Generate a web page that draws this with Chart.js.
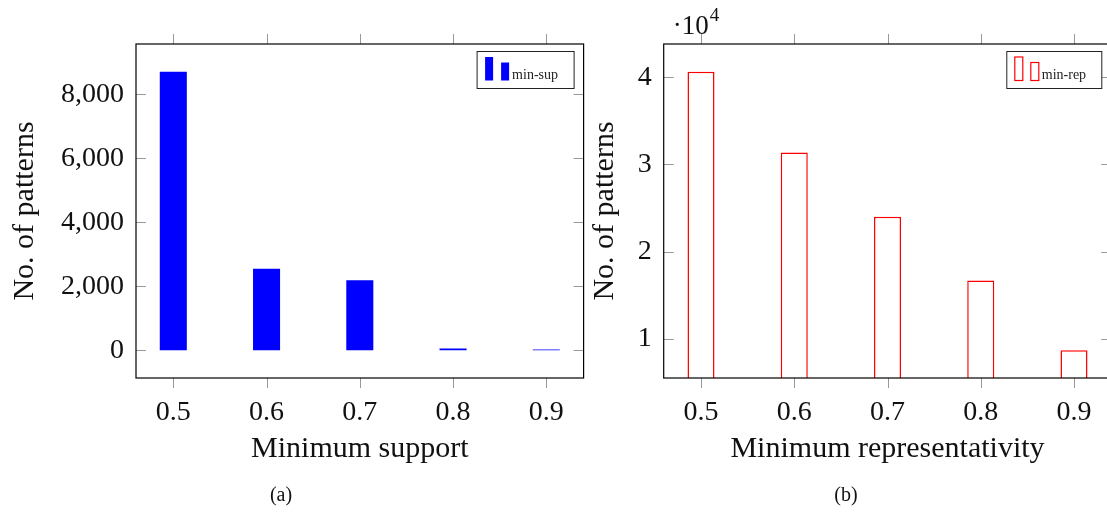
<!DOCTYPE html>
<html lang="en">
<head>
  <meta charset="UTF-8">
  <title>No. of patterns vs minimum support / representativity</title>
  <script src="https://cdn.jsdelivr.net/npm/chart.js"></script>
  <style>
    html, body { margin: 0; padding: 0; background: #fff; overflow: hidden; }
    body { width: 1107px; height: 513px; position: relative; }
    canvas { position: absolute; top: 0; }
    #chartA { left: 0; }
    #chartB { left: 580px; }
    .caption { position: absolute; top: 483px; font: 20px "Liberation Serif", serif; color: #111; transform: translateX(-50%); }
  </style>
</head>
<body>
<canvas id="chartA" width="600" height="513"></canvas>
<canvas id="chartB" width="550" height="513"></canvas>
<div class="caption" style="left:281px">(a)</div>
<div class="caption" style="left:846px">(b)</div>

<script>
  // data
  const supportLevels = [0.5, 0.6, 0.7, 0.8, 0.9];
  const minSupPatterns = [8705, 2549, 2184, 55, 25];
  const repLevels = [0.5, 0.6, 0.7, 0.8, 0.9];
  const minRepPatterns = [40610, 31370, 24000, 16680, 8690];
  const yTicksA = [0, 2000, 4000, 6000, 8000];
  const yTicksB = [10000, 20000, 30000, 40000];

  Chart.defaults.font.family = '"Liberation Serif", serif';
  Chart.defaults.color = '#111';

  // pgfplots-like box: outer ticks on x (top and bottom), inner ticks on y (both sides)
  const framePlugin = {
    id: 'frame',
    afterDatasetsDraw(chart) {
      const { ctx, chartArea: a, scales: { x, y } } = chart;
      ctx.save();
      ctx.strokeStyle = '#999';
      ctx.lineWidth = 1;
      ctx.beginPath();
      x.ticks.forEach(t => {
        const px = Math.round(x.getPixelForValue(t.value)) + 0.5;
        ctx.moveTo(px, a.bottom); ctx.lineTo(px, a.bottom + 10);
        ctx.moveTo(px, a.top); ctx.lineTo(px, a.top - 10);
      });
      y.ticks.forEach(t => {
        const py = Math.round(y.getPixelForValue(t.value)) + 0.5;
        ctx.moveTo(a.left, py); ctx.lineTo(a.left + 10, py);
        ctx.moveTo(a.right, py); ctx.lineTo(a.right - 10, py);
      });
      ctx.stroke();
      ctx.strokeStyle = '#000';
      ctx.lineWidth = 1.2;
      ctx.strokeRect(a.left, a.top, a.right - a.left, a.bottom - a.top);
      ctx.restore();
    }
  };

  // legend box with the two little bars pgfplots draws for ybar
  const barLegend = {
    id: 'barLegend',
    afterDraw(chart, args, opts) {
      const { ctx, chartArea: a } = chart;
      const ds = chart.data.datasets[0];
      const w = opts.width, h = 37;
      const bx = a.right - 9.5 - w, by = a.top + 7.5;
      ctx.save();
      ctx.fillStyle = '#fff';
      ctx.fillRect(bx, by, w, h);
      ctx.strokeStyle = '#222';
      ctx.lineWidth = 1;
      ctx.strokeRect(bx, by, w, h);
      [[8, 5.5, 8], [24, 11, 8]].forEach(([dx, dy, bw]) => {
        ctx.fillStyle = ds.backgroundColor;
        ctx.fillRect(bx + dx, by + dy, bw, 29 - dy);
        if (ds.borderWidth) {
          ctx.strokeStyle = ds.borderColor;
          ctx.lineWidth = 1.2;
          ctx.strokeRect(bx + dx, by + dy, bw, 29 - dy);
        }
      });
      ctx.fillStyle = '#222';
      ctx.font = '14px "Liberation Serif", serif';
      ctx.fillText(ds.label, bx + 35, by + 27);
      ctx.restore();
    }
  };

  // the "·10^4" scale note above the y axis
  const scaleNote = {
    id: 'scaleNote',
    afterDraw(chart, args, opts) {
      if (!opts.text) return;
      const { ctx, chartArea: a } = chart;
      ctx.save();
      ctx.fillStyle = '#111';
      ctx.font = '27px "Liberation Serif", serif';
      ctx.fillText('·' + opts.text, a.left + 9, a.top - 10);
      const w = ctx.measureText('·' + opts.text).width;
      ctx.font = '19px "Liberation Serif", serif';
      ctx.fillText(opts.exp, a.left + 9 + w + 1, a.top - 23);
      ctx.restore();
    }
  };

  function makeChart(id, cfg) {
    return new Chart(document.getElementById(id), {
      type: 'bar',
      data: {
        datasets: [{
          label: cfg.label,
          data: cfg.levels.map((l, i) => ({ x: l, y: cfg.values[i] })),
          backgroundColor: cfg.fill,
          borderColor: cfg.stroke,
          borderWidth: cfg.borderWidth,
          barPercentage: 0.29,
          categoryPercentage: 1
        }]
      },
      options: {
        responsive: false,
        animation: false,
        layout: { padding: { top: 44, right: cfg.padRight, bottom: 35, left: 0 } },
        plugins: {
          legend: { display: false },
          tooltip: { enabled: false },
          barLegend: { width: cfg.legendWidth },
          scaleNote: cfg.note || {}
        },
        scales: {
          x: {
            type: 'linear',
            offset: false,
            min: 0.46,
            max: 0.94,
            afterBuildTicks: s => { s.ticks = cfg.levels.map(v => ({ value: v })); },
            afterFit: s => { s.height = 100; },
            grid: { display: false, drawTicks: false },
            border: { display: false },
            ticks: { font: { size: 28 }, padding: 18, callback: v => v.toFixed(1) },
            title: {
              display: true, text: cfg.xTitle,
              font: { size: 30 }, padding: { top: 0, bottom: 11 }
            }
          },
          y: {
            min: cfg.yMin,
            max: cfg.yMax,
            afterBuildTicks: s => { s.ticks = cfg.yTicks.map(v => ({ value: v })); },
            afterFit: s => { s.width = cfg.yWidth; },
            grid: { display: false, drawTicks: false },
            border: { display: false },
            ticks: { font: { size: 28 }, padding: 12, callback: cfg.yFormat },
            title: {
              display: true, text: 'No. of patterns',
              font: { size: 30 }, padding: { top: 7, bottom: 0 }
            }
          }
        }
      },
      plugins: [framePlugin, barLegend, scaleNote]
    });
  }

  makeChart('chartA', {
    label: 'min-sup',
    levels: supportLevels,
    values: minSupPatterns,
    yTicks: yTicksA,
    yMin: -870,
    yMax: 9575,
    yFormat: v => v.toLocaleString('en-US'),
    fill: '#0000ff',
    stroke: '#0000ff',
    borderWidth: 0,
    xTitle: 'Minimum support',
    yWidth: 136,
    padRight: 16.4,
    legendWidth: 97
  });

  makeChart('chartB', {
    label: 'min-rep',
    levels: repLevels,
    values: minRepPatterns,
    yTicks: yTicksB,
    yMin: 5498,
    yMax: 43802,
    yFormat: v => v / 10000,
    fill: '#ffffff',
    stroke: '#ff0000',
    borderWidth: 1.5,
    xTitle: 'Minimum representativity',
    yWidth: 83.7,
    padRight: 18.7,
    legendWidth: 95,
    note: { text: '10', exp: '4' }
  });
</script>
</body>
</html>
